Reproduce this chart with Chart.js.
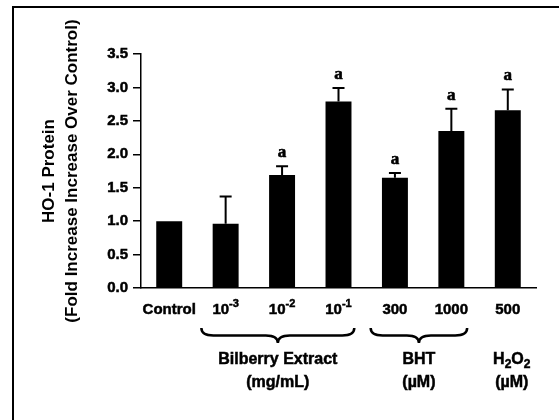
<!DOCTYPE html>
<html>
<head>
<meta charset="utf-8">
<script src="https://cdn.jsdelivr.net/npm/chart.js@4.4.0/dist/chart.umd.min.js"></script>
<style>
  html, body { margin: 0; padding: 0; background: #fff; overflow: hidden; }
  canvas { display: block; }
</style>
</head>
<body>
<canvas id="chart" width="559" height="420"></canvas>
<script>
// Treatments along the x axis ("^" marks an exponent)
const categories = ['Control', '10^-3', '10^-2', '10^-1', '300', '1000', '500'];
// HO-1 protein, fold increase over control (mean and upper error)
const foldIncrease = [1.00, 0.96, 1.69, 2.79, 1.65, 2.35, 2.66];
const errorUpper = [0.00, 0.41, 0.13, 0.20, 0.07, 0.33, 0.31];
// Significance letters above the bars
const significance = ['', '', 'a', 'a', 'a', 'a', 'a'];
// Y axis tick labels
const yTickLabels = ['0.0', '0.5', '1.0', '1.5', '2.0', '2.5', '3.0', '3.5'];
// Treatment groups under the axis ("_" marks a subscript)
const groupNames = ['Bilberry Extract', 'BHT', 'H_2O_2'];
const groupUnits = ['(mg/mL)', '(\u00b5M)', '(\u00b5M)'];
const groupFirst = [1, 4, 6];
const groupLast = [3, 5, 6];

const SANS = '"Liberation Sans", Arial, Helvetica, sans-serif';
const SERIF = '"Liberation Serif", "Times New Roman", serif';

// split "10^-3" / "H_2O_2" into normal, superscript and subscript runs
function parseRich(str) {
  const runs = [];
  const re = /([\^_])(-?\d+)|([^\^_]+)/g;
  let m;
  while ((m = re.exec(str)) !== null) {
    if (m[3]) {
      runs.push({ t: m[3], k: 'n' });
    } else if (m[1] === '^') {
      runs.push({ t: m[2], k: 'sup' });
    } else {
      // a subscript only takes one digit; the rest is normal text
      runs.push({ t: m[2].slice(0, 1), k: 'sub' });
      if (m[2].length > 1) runs.push({ t: m[2].slice(1), k: 'n' });
    }
  }
  return runs;
}

function drawRich(ctx, str, cx, cy, size) {
  const runs = parseRich(str);
  const small = Math.round(size * 0.72);
  const fontFor = r => 'bold ' + (r.k === 'n' ? size : small) + 'px ' + SANS;
  let total = 0;
  runs.forEach(r => { ctx.font = fontFor(r); r.w = ctx.measureText(r.t).width; total += r.w; });
  let x = cx - total / 2;
  ctx.textAlign = 'left';
  ctx.textBaseline = 'middle';
  ctx.lineWidth = 0.5;
  runs.forEach(r => {
    ctx.font = fontFor(r);
    let dy = 0;
    if (r.k === 'sup') dy = -size * 0.42;
    if (r.k === 'sub') dy = size * 0.28;
    ctx.fillText(r.t, x, cy + dy);
    ctx.strokeText(r.t, x, cy + dy);
    x += r.w;
  });
}

// curly brace opening upward, point facing down
function drawBrace(ctx, x0, x1, yTop, depth) {
  const mid = (x0 + x1) / 2;
  const r = depth / 2;
  ctx.beginPath();
  ctx.moveTo(x0, yTop);
  ctx.quadraticCurveTo(x0, yTop + r, x0 + r * 1.6, yTop + r);
  ctx.lineTo(mid - r * 1.6, yTop + r);
  ctx.quadraticCurveTo(mid, yTop + r, mid, yTop + depth);
  ctx.quadraticCurveTo(mid, yTop + r, mid + r * 1.6, yTop + r);
  ctx.lineTo(x1 - r * 1.6, yTop + r);
  ctx.quadraticCurveTo(x1, yTop + r, x1, yTop);
  ctx.stroke();
}

const annotations = {
  id: 'annotations',
  beforeDraw(chart) {
    // open frame: left and top edges only
    const { ctx } = chart;
    ctx.save();
    ctx.strokeStyle = '#000';
    ctx.lineWidth = 2;
    ctx.beginPath();
    ctx.moveTo(13, chart.height);
    ctx.lineTo(13, 7);
    ctx.lineTo(chart.width, 7);
    ctx.stroke();
    ctx.restore();
  },
  afterDatasetsDraw(chart) {
    const { ctx } = chart;
    const y = chart.scales.y;
    const meta = chart.getDatasetMeta(0);
    ctx.save();
    ctx.strokeStyle = '#000';
    ctx.fillStyle = '#000';
    foldIncrease.forEach((v, i) => {
      const cx = meta.data[i].x;
      const yBar = y.getPixelForValue(v);
      const yErr = y.getPixelForValue(v + errorUpper[i]);
      if (errorUpper[i] > 0) {
        ctx.lineWidth = 2;
        ctx.beginPath();
        ctx.moveTo(cx, yBar);
        ctx.lineTo(cx, yErr);
        ctx.moveTo(cx - 6, yErr);
        ctx.lineTo(cx + 6, yErr);
        ctx.stroke();
      }
      if (significance[i]) {
        ctx.font = 'bold 17px ' + SERIF;
        ctx.textAlign = 'center';
        ctx.textBaseline = 'alphabetic';
        ctx.lineWidth = 0.6;
        ctx.fillText(significance[i], cx, yErr - 9);
        ctx.strokeText(significance[i], cx, yErr - 9);
      }
    });
    ctx.restore();
  },
  afterDraw(chart) {
    const { ctx } = chart;
    const x = chart.scales.x;
    const base = chart.chartArea.bottom;
    const step = x.getPixelForValue(1) - x.getPixelForValue(0);
    ctx.save();
    ctx.fillStyle = '#000';
    ctx.strokeStyle = '#000';
    // category labels
    categories.forEach((c, i) => {
      drawRich(ctx, c, x.getPixelForValue(i), base + 22, 15);
    });
    // braces and group names
    groupNames.forEach((g, i) => {
      const x0 = x.getPixelForValue(groupFirst[i]) - step * 0.43;
      const x1 = x.getPixelForValue(groupLast[i]) + step * 0.28;
      let cx;
      if (groupFirst[i] !== groupLast[i]) {
        ctx.lineWidth = 2.5;
        drawBrace(ctx, x0, x1, base + 40, 15);
        cx = (x0 + x1) / 2;
      } else {
        cx = x.getPixelForValue(groupFirst[i]) + 4;
      }
      drawRich(ctx, g, cx, base + 72, 16);
      drawRich(ctx, groupUnits[i], cx, base + 95, 16);
    });
    ctx.restore();
  }
};

new Chart(document.getElementById('chart'), {
  type: 'bar',
  data: {
    labels: categories,
    datasets: [{
      data: foldIncrease,
      backgroundColor: '#000',
      borderWidth: 0,
      categoryPercentage: 1.0,
      barPercentage: 0.46
    }]
  },
  options: {
    responsive: false,
    animation: false,
    layout: { padding: { left: 0, top: 54, right: 23, bottom: 0 } },
    plugins: { legend: { display: false }, tooltip: { enabled: false } },
    scales: {
      x: {
        grid: { display: false },
        border: { display: true, color: '#000', width: 1.5 },
        ticks: { display: false },
        afterFit(scale) { scale.height = 132; }
      },
      y: {
        min: 0,
        max: 3.5,
        grid: { drawOnChartArea: false, drawTicks: true, tickLength: 8, color: '#000', lineWidth: 1.5 },
        border: { display: true, color: '#000', width: 1.5 },
        ticks: {
          stepSize: 0.5,
          padding: 5,
          color: '#000',
          textStrokeColor: '#000',
          textStrokeWidth: 0.5,
          font: { family: SANS, size: 15, weight: 'bold' },
          callback: (v, i) => yTickLabels[i]
        },
        title: {
          display: true,
          text: ['HO-1 Protein', '(Fold Increase Increase Over Control)'],
          color: '#000',
          font: { family: SANS, size: 17, weight: 'bold', lineHeight: 1.35 },
          padding: { top: 37.5, bottom: 0 }
        },
        afterFit(scale) { scale.width = 141; }
      }
    }
  },
  plugins: [annotations]
});
</script>
</body>
</html>
